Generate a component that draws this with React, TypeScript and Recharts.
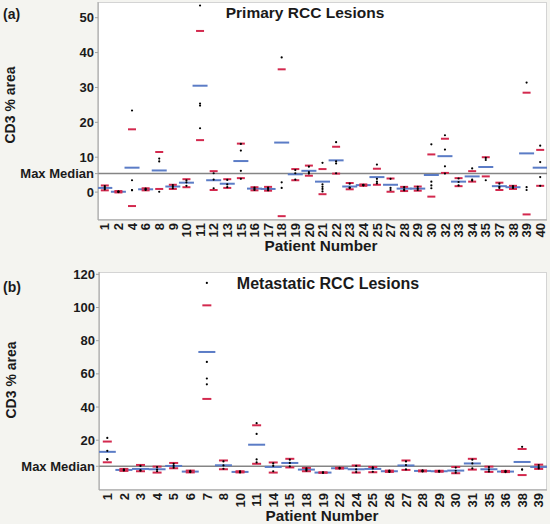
import React from 'react'
import { ComposedChart, Scatter, XAxis, YAxis, ReferenceLine } from 'recharts'

const FONT = "'Liberation Sans', Arial, sans-serif"
const BLUE = '#5b7cc6'
const RED = '#d3294e'
const INK = '#1a1a1a'

// (a) Primary RCC lesions
const patientsA = ['1', '2', '4', '6', '8', '9', '10', '11', '12', '13', '15', '16', '17', '18', '19', '20', '21', '22', '23', '24', '25', '27', '28', '29', '30', '32', '33', '34', '35', '37', '38', '39', '40']
const meanA = [1.2, 0.1, 7.0, 0.8, 6.2, 1.6, 2.7, 30.5, 3.4, 2.4, 8.9, 1.0, 0.9, 14.2, 5.1, 6.1, 3.0, 9.1, 1.6, 2.0, 4.3, 2.1, 1.0, 1.0, 4.9, 10.3, 3.0, 4.5, 7.2, 1.7, 1.4, 11.1, 7.0]
const upperA = [1.9, 0.3, 18.0, 1.1, 11.5, 2.1, 3.7, 46.2, 6.0, 3.7, 13.9, 1.4, 1.5, 35.2, 6.6, 7.6, 6.6, 13.0, 2.6, 2.2, 6.7, 3.9, 1.5, 1.6, 10.8, 15.3, 4.0, 6.0, 10.0, 2.7, 1.8, 28.5, 12.1]
const lowerA = [0.5, -0.1, -4.0, 0.5, 0.9, 0.9, 1.4, 14.9, 0.6, 1.2, 4.0, 0.5, 0.4, -6.9, 3.4, 4.7, -0.6, 5.3, 0.8, 1.8, 2.1, 0.1, 0.3, 0.4, -1.3, 5.5, 1.7, 3.0, 4.5, 0.6, 0.9, -6.4, 1.8]
const pointsA = [
  [1.7, 0.8, 1.2], [0.2, 0.0, 0.1], [23.4, 3.4, 0.6, 0.5], [1.0, 0.8, 0.6], [9.6, 8.8, 0.1],
  [2.0, 1.5, 1.1], [3.4, 2.8, 1.8], [53.5, 25.4, 24.8, 18.3], [5.4, 3.6, 1.1], [3.5, 2.2, 1.4],
  [13.8, 11.9, 6.1, 3.8], [1.3, 0.9, 0.6], [1.3, 0.9, 0.5], [38.6, 2.8, 1.2], [6.3, 5.4, 3.6],
  [7.3, 5.7, 5.3], [8.4, 2.2, 1.5, 0.9, 0.2], [14.3, 8.8, 8.2, 5.4], [2.4, 1.3, 1.2], [2.1, 2.0, 1.9],
  [7.9, 3.8, 3.0, 2.5], [3.8, 1.2, 0.6], [1.4, 0.8, 0.5], [1.5, 1.0, 0.6], [13.7, 3.0, 1.9, 1.1],
  [16.3, 12.2, 7.4, 5.3], [3.9, 2.9, 1.9], [6.8, 3.6, 3.3], [9.8, 9.2, 3.4], [2.4, 1.5, 1.2],
  [1.7, 1.3, 1.2], [31.4, 1.4, 0.6], [13.3, 8.6, 4.3, 1.8],
]
const maxMedianA = 5.3
const yTicksA = [0, maxMedianA, 10, 20, 30, 40, 50]

// (b) Metastatic RCC lesions
const patientsB = ['1', '2', '3', '4', '5', '6', '7', '8', '10', '11', '14', '15', '18', '19', '22', '24', '25', '26', '27', '28', '29', '30', '31', '35', '36', '38', '39']
const meanB = [13.0, 2.1, 2.7, 2.5, 4.5, 1.1, 73.2, 4.9, 0.9, 17.3, 3.9, 6.3, 2.3, 0.5, 3.1, 2.5, 2.7, 1.3, 4.8, 1.5, 1.3, 1.7, 6.0, 2.5, 1.1, 6.9, 3.9]
const upperB = [19.2, 2.7, 5.1, 4.1, 6.3, 1.7, 101.3, 7.8, 1.3, 29.0, 6.6, 8.8, 3.3, 0.6, 3.4, 4.8, 3.9, 1.7, 7.8, 1.8, 1.6, 3.9, 8.8, 4.1, 1.5, 14.7, 5.3]
const lowerB = [6.7, 1.5, 1.3, 0.5, 3.1, 0.6, 44.9, 2.5, 0.6, 5.8, 0.5, 3.6, 1.3, 0.4, 2.9, 0.5, 0.7, 0.9, 2.1, 1.2, 1.0, 0.1, 2.3, 0.9, 0.8, -1.0, 2.7]
const pointsB = [
  [21.4, 13.6, 8.6, 8.4], [2.5, 2.0, 1.8], [4.5, 2.0, 1.6], [3.8, 2.3, 1.3], [5.8, 4.5, 3.4],
  [1.5, 1.0, 0.8], [114.8, 67.2, 57.2, 53.7], [7.2, 4.8, 2.8], [1.3, 0.9, 0.6], [30.3, 23.8, 8.4, 6.6],
  [6.0, 4.5, 1.3], [8.3, 6.3, 4.2], [3.0, 2.3, 1.6], [0.6, 0.5, 0.4], [3.3, 3.0],
  [4.5, 2.4, 0.8], [3.6, 3.0, 1.0], [1.7, 1.3, 0.9], [7.2, 5.0, 2.4], [1.8, 1.4, 1.2],
  [1.6, 1.3, 1.0], [3.5, 1.6, 0.4], [8.3, 6.0, 3.0], [3.8, 2.4, 1.2], [1.5, 1.1, 0.8],
  [16.0, 2.5, 2.2], [5.0, 3.8, 3.0],
]
const maxMedianB = 4.3
const yTicksB = [maxMedianB, 20, 40, 60, 80, 100, 120]

const dash = (w: number, color: string) => (p: any) => (
  <line x1={p.cx - w / 2} x2={p.cx + w / 2} y1={p.cy} y2={p.cy} stroke={color} strokeWidth={2} />
)
const dot = (p: any) => <circle cx={p.cx} cy={p.cy} r={1.1} fill="#000" />

const PatientTick = ({ x, y, payload, labels }: any) => (
  <text
    x={x}
    y={y}
    transform={`rotate(-90, ${x}, ${y})`}
    textAnchor="end"
    dy="0.36em"
    fontSize={13}
    fontWeight="bold"
    fill={INK}
    fontFamily={FONT}
  >
    {labels[payload.value]}
  </text>
)

interface PanelProps {
  top: number
  marginTop: number
  yWidth: number
  xHeight: number
  patients: string[]
  means: number[]
  uppers: number[]
  lowers: number[]
  points: number[][]
  maxMedian: number
  yTicks: number[]
  yDomain: [number, number]
  meanW: number
  sdW: number
}

function Panel({ top, marginTop, yWidth, xHeight, patients, means, uppers, lowers, points, maxMedian, yTicks, yDomain, meanW, sdW }: PanelProps) {
  const meanData = means.map((y, i) => ({ x: i, y }))
  const sdData = uppers.flatMap((u, i) => [{ x: i, y: u }, { x: i, y: lowers[i] }])
  const dotData = points.flatMap((ps, i) => ps.map((y) => ({ x: i, y })))
  const xTicks = patients.map((_, i) => i)
  const plotH = 262 - marginTop - xHeight

  return (
    <div style={{ position: 'absolute', left: 0, top, width: 550, height: 262 }}>
      <div
        style={{
          position: 'absolute', left: yWidth, top: marginTop, width: 547 - yWidth, height: plotH,
          background: '#fff', border: '1px solid #d4d4d4', boxSizing: 'border-box',
        }}
      />
      <div style={{ position: 'absolute', left: 0, top: 0 }}>
        <ComposedChart width={550} height={262} margin={{ top: marginTop, right: 3, bottom: 0, left: 0 }}>
          <XAxis
            dataKey="x"
            type="number"
            domain={[-0.5, patients.length - 0.5]}
            ticks={xTicks}
            interval={0}
            height={xHeight}
            tickSize={0}
            tickMargin={3}
            tickLine={false}
            axisLine={{ stroke: '#a0a0a0' }}
            tick={(props: any) => <PatientTick {...props} labels={patients} />}
            allowDataOverflow
          />
          <YAxis
            dataKey="y"
            type="number"
            domain={yDomain}
            ticks={yTicks}
            interval={0}
            width={yWidth}
            tickSize={3}
            tickMargin={1}
            tickLine={{ stroke: '#a0a0a0' }}
            axisLine={{ stroke: '#a0a0a0' }}
            tick={{ fontSize: 13, fontWeight: 'bold', fill: INK, fontFamily: FONT }}
            tickFormatter={(v: number) => (v === maxMedian ? 'Max Median' : String(v))}
            allowDataOverflow
          />
          <ReferenceLine y={maxMedian} stroke="#858585" strokeWidth={1.5} />
          <Scatter data={meanData} shape={dash(meanW, BLUE)} isAnimationActive={false} />
          <Scatter data={sdData} shape={dash(sdW, RED)} isAnimationActive={false} />
          <Scatter data={dotData} shape={dot} isAnimationActive={false} />
        </ComposedChart>
      </div>
    </div>
  )
}

const txt = { fontFamily: FONT, fontWeight: 'bold' as const, fill: INK }

export default function App() {
  return (
    <div style={{ position: 'absolute', left: 0, top: 0, width: 550, height: 524, background: '#f4f4f0', overflow: 'hidden' }}>
      <Panel
        top={0} marginTop={2} yWidth={98} xHeight={42}
        patients={patientsA} means={meanA} uppers={upperA} lowers={lowerA} points={pointsA}
        maxMedian={maxMedianA} yTicks={yTicksA} yDomain={[-8, 54.5]} meanW={15} sdW={8}
      />
      <Panel
        top={262} marginTop={10} yWidth={99} xHeight={34}
        patients={patientsB} means={meanB} uppers={upperB} lowers={lowerB} points={pointsB}
        maxMedian={maxMedianB} yTicks={yTicksB} yDomain={[-10, 121.4]} meanW={17} sdW={9}
      />
      <svg width={550} height={524} style={{ position: 'absolute', left: 0, top: 0, pointerEvents: 'none' }}>
        <text x={3} y={19} fontSize={14} {...txt}>(a)</text>
        <text x={305} y={18} fontSize={15.5} textAnchor="middle" {...txt}>Primary RCC Lesions</text>
        <text x={15} y={105} fontSize={14} textAnchor="middle" transform="rotate(-90, 15, 105)" {...txt}>CD3 % area</text>
        <text x={321} y={251} fontSize={15.3} textAnchor="middle" {...txt}>Patient Number</text>
        <text x={3} y={292} fontSize={14} {...txt}>(b)</text>
        <text x={328} y={289} fontSize={16} textAnchor="middle" {...txt}>Metastatic RCC Lesions</text>
        <text x={16} y={380} fontSize={14} textAnchor="middle" transform="rotate(-90, 16, 380)" {...txt}>CD3 % area</text>
        <text x={322} y={521} fontSize={15.3} textAnchor="middle" {...txt}>Patient Number</text>
      </svg>
    </div>
  )
}
